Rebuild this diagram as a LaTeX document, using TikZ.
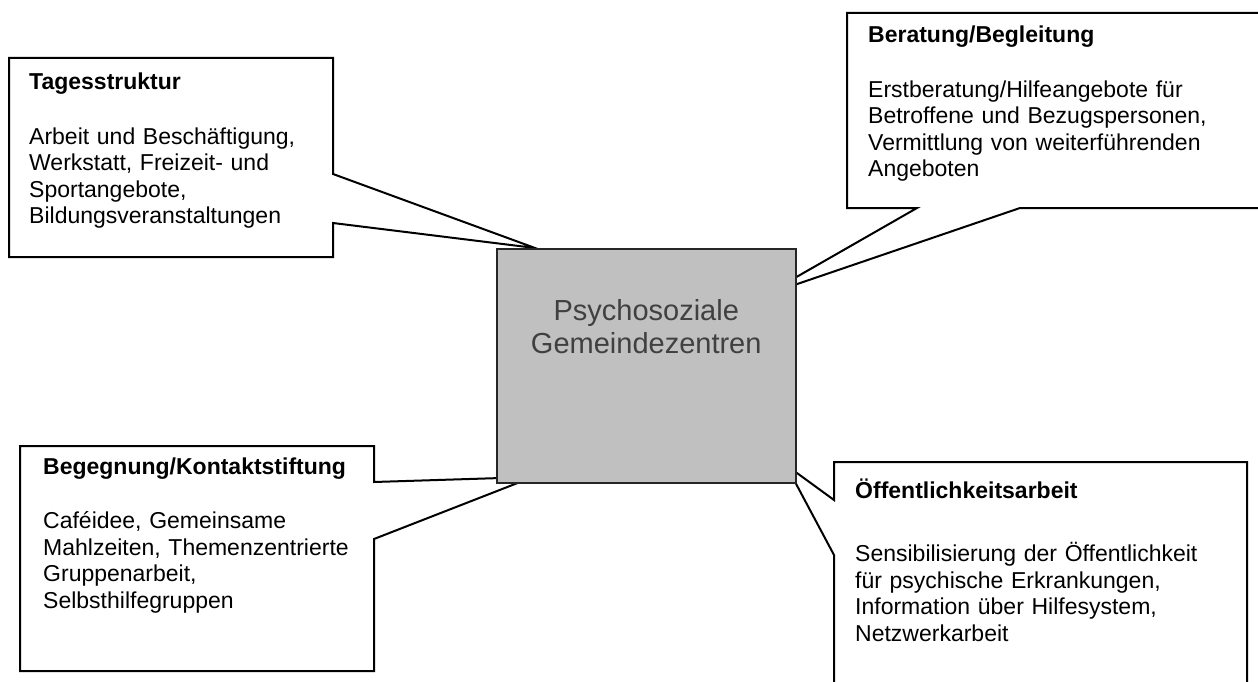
\documentclass[tikz,border=0pt]{standalone}
\usepackage{fontspec}
\setmainfont{Liberation Sans}
\usetikzlibrary{positioning}
\definecolor{zentrumgrau}{HTML}{C0C0C0}
\definecolor{textgrau}{HTML}{404040}
\tikzset{
	callout/.style={draw=black, line width=2pt, fill=white, line join=miter},
	zentrum/.style={draw=black!85, line width=1.5pt, fill=zentrumgrau, inner sep=0pt},
	boxtext/.style={anchor=base west, inner sep=0pt, text width=390pt, align=left, font=\fontsize{23}{26.5}\selectfont},
}

\begin{document}
\begin{tikzpicture}[x=1pt, y=-1pt]
	\useasboundingbox (0,0) rectangle (1258,682);
	
	% Tagesstruktur
	\coordinate (TA) at (9,58);
	\coordinate (TB) at (333,58);
	\coordinate (TC) at (333,174);
	\coordinate (Ttip) at (535,248);
	\coordinate (TD) at (333,223);
	\coordinate (TE) at (333,257);
	\coordinate (TF) at (9,257);
	\draw[callout] (TA)--(TB)--(TC)--(Ttip)--(TD)--(TE)--(TF)--cycle;
	
	% Beratung/Begleitung
	\coordinate (BA) at (847,13);
	\coordinate (BB) at (1270,13);
	\coordinate (BC) at (1270,208);
	\coordinate (BD) at (1020,208);
	\coordinate (Btip) at (765,295);
	\coordinate (BE) at (917,208);
	\coordinate (BF) at (847,208);
	\draw[callout] (BA)--(BB)--(BC)--(BD)--(Btip)--(BE)--(BF)--cycle;
	
	% Begegnung/Kontaktstiftung
	\coordinate (GA) at (20,446);
	\coordinate (GB) at (374,446);
	\coordinate (GC) at (374,482);
	\coordinate (Gtip) at (533,477);
	\coordinate (GD) at (374,539);
	\coordinate (GE) at (374,671);
	\coordinate (GF) at (20,671);
	\draw[callout] (GA)--(GB)--(GC)--(Gtip)--(GD)--(GE)--(GF)--cycle;
	
	% Oeffentlichkeitsarbeit
	\coordinate (OA) at (834,462);
	\coordinate (OB) at (1247,462);
	\coordinate (OC) at (1247,700);
	\coordinate (OD) at (834,700);
	\coordinate (OE) at (834,555);
	\coordinate (Otip) at (786,465);
	\coordinate (OF) at (834,500);
	\draw[callout] (OA)--(OB)--(OC)--(OD)--(OE)--(Otip)--(OF)--cycle;
	
	% Zentrum
	\node[zentrum, minimum width=299pt, minimum height=234pt, anchor=north west] (PGZ) at (496,248) {};
	\node[anchor=north, inner sep=0pt, align=center, text=textgrau, font=\fontsize{29}{33}\selectfont] (PGZtext) at ([yshift=-51pt]PGZ.north) {Psychosoziale\\Gemeindezentren};
	
	% Texte
	\node[boxtext] (Ttext) at (29,90) {\textbf{Tagesstruktur}\\[28pt]
		Arbeit und Besch\"aftigung,\\
		Werkstatt, Freizeit- und\\
		Sportangebote,\\
		Bildungsveranstaltungen};
	\node[boxtext] (Btext) at (868,43) {\textbf{Beratung/Begleitung}\\[28pt]
		Erstberatung/Hilfeangebote f\"ur\\
		Betroffene und Bezugspersonen,\\
		Vermittlung von weiterf\"uhrenden\\
		Angeboten};
	\node[boxtext] (Gtext) at (43,474) {\textbf{Begegnung/Kontaktstiftung}\\[28pt]
		Caf\'eidee, Gemeinsame\\
		Mahlzeiten, Themenzentrierte\\
		Gruppenarbeit,\\
		Selbsthilfegruppen};
	\node[boxtext] (Otext) at (855,498) {\textbf{\"Offentlichkeitsarbeit}\\[37pt]
		Sensibilisierung der \"Offentlichkeit\\
		f\"ur psychische Erkrankungen,\\
		Information \"uber Hilfesystem,\\
		Netzwerkarbeit};
\end{tikzpicture}
\end{document}
